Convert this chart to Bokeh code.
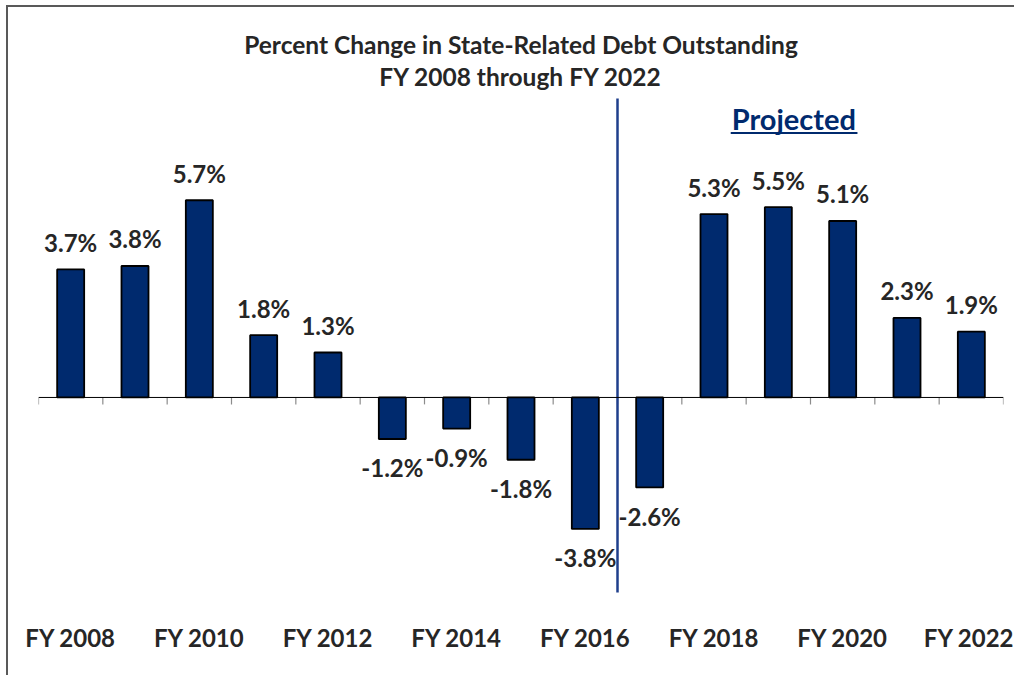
from bokeh.plotting import figure
from bokeh.models import Range1d, FixedTicker, ColumnDataSource, Label, Span
from bokeh.embed import file_html
from bokeh.resources import INLINE

# ---- data ----
categories = ["FY 2008", "FY 2009", "FY 2010", "FY 2011", "FY 2012", "FY 2013", "FY 2014",
              "FY 2015", "FY 2016", "FY 2017", "FY 2018", "FY 2019", "FY 2020", "FY 2021", "FY 2022"]
pct_change = [3.7, 3.8, 5.7, 1.8, 1.3, -1.2, -0.9, -1.8, -3.8, -2.6, 5.3, 5.5, 5.1, 2.3, 1.9]
first_projected = "FY 2017"
title_lines = ["Percent Change in State-Related Debt Outstanding", "FY 2008 through FY 2022"]
projected_text = "Projected"

FONT = "Lato"
NAVY = "#002A6E"
TXT = "#262626"

xs = list(range(len(categories)))
W, H = 1008, 670

p = figure(width=W, height=H, output_backend="svg", toolbar_location=None,
           x_range=Range1d(-0.5, len(categories) - 0.5), y_range=Range1d(-6.07, 11.27),
           min_border_left=30, min_border_right=13, min_border_top=0, min_border_bottom=70)
p.styles = {"border-top": "2px solid #595959", "border-left": "2px solid #595959",
            "margin-left": "6px", "margin-top": "5px"}
p.outline_line_color = None
p.background_fill_color = "white"
p.border_fill_color = "white"
p.xgrid.visible = False
p.ygrid.visible = False
p.yaxis.visible = False

# x axis labels every other category
p.xaxis.ticker = FixedTicker(ticks=xs[::2])
p.xaxis.major_label_overrides = {i: categories[i] for i in xs[::2]}
p.xaxis.axis_line_color = None
p.xaxis.major_tick_line_color = None
p.xaxis.minor_tick_line_color = None
p.xaxis.major_label_text_font = FONT
p.xaxis.major_label_text_font_style = "bold"
p.xaxis.major_label_text_font_size = "24px"
p.xaxis.major_label_text_color = TXT
p.xaxis.major_label_standoff = 9

# bars
src = ColumnDataSource(dict(x=xs, v=pct_change))
p.vbar(x="x", top="v", bottom=0, width=0.42, source=src, fill_color=NAVY,
       line_color="black", line_width=1.8)

# zero line and tick marks at category boundaries
p.add_layout(Span(location=0, dimension="width", line_color="black", line_width=1))
bounds = [i - 0.5 for i in range(len(categories) + 1)]
p.segment(x0=bounds, y0=[0] * len(bounds), x1=bounds, y1=[-0.2] * len(bounds),
          line_color="#8c8c8c", line_width=1.2)

# data labels
pos = [(x, v) for x, v in zip(xs, pct_change) if v >= 0]
neg = [(x, v) for x, v in zip(xs, pct_change) if v < 0]
for group, off in ((pos, -27), (neg, 29)):
    s = ColumnDataSource(dict(x=[g[0] for g in group], y=[g[1] for g in group],
                              t=[f"{g[1]:.1f}%" for g in group]))
    p.text(x="x", y="y", text="t", source=s, text_align="center", text_baseline="middle",
           y_offset=off, text_font_size="24px", text_font_style="bold",
           text_color=TXT, text_font={"value": FONT})

# projected divider
div_x = categories.index(first_projected) - 0.5
p.segment(x0=[div_x], y0=[8.64], x1=[div_x], y1=[-5.64], line_color="#1F3F8C", line_width=2.5)

# titles
mid = (len(categories) - 1) / 2
p.add_layout(Label(x=mid, y=10.2, text=title_lines[0], text_align="center", text_baseline="middle",
                   text_font=FONT, text_font_style="bold", text_font_size="24.5px", text_color=TXT))
p.add_layout(Label(x=mid, y=9.28, text=title_lines[1], text_align="center", text_baseline="middle",
                   text_font=FONT, text_font_style="bold", text_font_size="24.5px", text_color=TXT))

# Projected label with underline
p.add_layout(Label(x=11.24, y=8.06, text=projected_text, text_align="center", text_baseline="middle",
                   text_font=FONT, text_font_style="bold", text_font_size="29px", text_color=NAVY))
p.segment(x0=[10.26], y0=[7.64], x1=[12.23], y1=[7.64], line_color=NAVY, line_width=2)

open("out.html", "w").write(file_html(p, INLINE))
